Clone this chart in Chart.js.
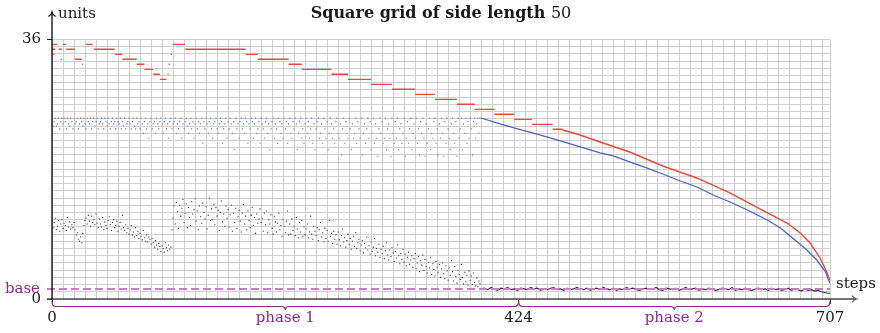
<!DOCTYPE html>
<html>
<head>
<meta charset="utf-8">
<script src="https://cdn.jsdelivr.net/npm/chart.js@4.4.1/dist/chart.umd.min.js"></script>
<style>
  html, body { margin: 0; padding: 0; background: #fff; }
  #wrap { width: 880px; height: 333px; }
</style>
</head>
<body>
<div id="wrap"><canvas id="c" width="880" height="333"></canvas></div>
<script>
// ---- axis labels and ticks ----
const xTickLabels = [0, 424, 707];
const yTickLabels = [0, 36];
const phaseNames = ['phase 1', 'phase 2'];
const phaseBounds = [0, 424, 707];
const baseValue = 1.39;

// ---- red: upper bound, piecewise-constant runs [fromStep, toStep, value] ----
const redRuns = [
  [0, 5, 35.33], [0, 3, 34.64], [6, 9, 34.64], [1, 2, 33.94], [8, 9, 33.25],
  [10, 13, 35.33], [13, 21, 34.64], [21, 27, 33.25], [27, 28, 32.56],
  [31, 37, 35.33], [38, 57, 34.64], [57, 64, 33.94], [64, 77, 33.25],
  [77, 84, 32.56], [84, 92, 31.86], [92, 98, 31.17], [98, 104, 30.47],
  [105, 106, 31.17], [106, 107, 32.56], [108, 109, 33.94],
  [110, 121, 35.33], [121, 176, 34.64], [176, 187, 33.94], [187, 215, 33.25],
  [215, 227, 32.56], [227, 254, 31.86], [254, 269, 31.17], [269, 290, 30.47],
  [290, 309, 29.78], [309, 330, 29.09], [330, 348, 28.39], [348, 368, 27.70],
  [368, 384, 27.01], [384, 402, 26.31], [402, 420, 25.62], [420, 436, 24.92],
  [436, 455, 24.23], [455, 464, 23.54]
];
const redTailSteps = [464, 480, 498, 525, 555, 586, 616, 642, 668, 680, 689, 698, 704, 707];
const redTailVals  = [23.45, 22.75, 21.78, 20.39, 18.45, 16.79, 14.71, 12.62, 10.54, 9.16, 7.77, 5.69, 3.75, 2.64];

// ---- blue: one value per step during phase 1 (steps 0..389) ----
const blueScatter = [
  25.1, 24.0, 24.6, 25.1, 24.0, 24.3, 25.1, 23.6, 24.6, 25.1,
  24.3, 25.1, 24.6, 23.6, 25.1, 24.3, 24.0, 25.1, 24.6, 23.6,
  25.1, 24.3, 24.6, 25.1, 23.6, 24.3, 25.1, 24.6, 24.0, 25.1,
  24.3, 23.6, 25.1, 24.6, 24.3, 25.1, 23.6, 24.6, 25.1, 24.0,
  24.6, 25.1, 23.6, 24.3, 24.6, 25.1, 24.3, 23.6, 25.1, 24.6,
  24.0, 25.1, 24.3, 23.6, 24.6, 25.1, 24.3, 24.6, 23.6, 25.1,
  24.6, 24.3, 25.1, 23.6, 24.6, 24.0, 25.1, 23.6, 24.3, 24.6,
  25.1, 24.3, 23.6, 24.6, 25.1, 24.0, 23.6, 25.1, 24.3, 24.6,
  23.6, 25.1, 24.3, 23.0, 24.6, 25.1, 23.6, 24.3, 22.3, 24.6,
  25.1, 23.6, 24.3, 24.6, 23.0, 25.1, 24.3, 23.6, 24.6, 25.1,
  24.3, 23.0, 24.6, 25.1, 23.6, 24.3, 22.3, 24.6, 25.1, 23.6,
  24.3, 24.6, 25.1, 23.0, 24.3, 23.6, 24.6, 25.1, 22.3, 24.3,
  23.6, 24.6, 25.1, 24.0, 23.0, 24.3, 25.1, 23.6, 24.6, 22.3,
  24.3, 25.1, 23.6, 24.6, 23.0, 24.3, 25.1, 21.6, 24.6, 23.6,
  25.1, 24.3, 23.0, 24.6, 25.1, 23.6, 22.3, 24.3, 24.6, 25.1,
  23.6, 23.0, 24.3, 25.1, 24.6, 21.6, 23.6, 24.3, 25.1, 22.3,
  24.6, 23.6, 25.1, 24.3, 23.0, 24.6, 20.7, 25.1, 23.6, 24.3,
  22.3, 24.6, 25.1, 23.6, 24.3, 23.0, 25.1, 24.6, 21.6, 24.3,
  23.6, 25.1, 24.6, 22.3, 24.3, 25.1, 23.0, 23.6, 24.6, 21.6,
  25.1, 24.3, 23.6, 22.3, 24.6, 25.1, 23.0, 24.3, 20.7, 23.6,
  24.6, 25.1, 22.3, 24.3, 23.6, 21.6, 25.1, 24.6, 23.0, 24.3,
  22.3, 25.1, 23.6, 24.6, 21.6, 24.3, 25.1, 23.0, 22.3, 24.6,
  23.6, 25.1, 24.3, 20.7, 23.0, 24.6, 25.1, 22.3, 23.6, 21.6,
  24.3, 25.1, 23.0, 24.6, 22.3, 23.6, 25.1, 21.6, 24.3, 20.7,
  23.6, 24.6, 25.1, 22.3, 23.0, 24.3, 21.6, 25.1, 23.6, 22.3,
  24.6, 20.7, 23.0, 25.1, 24.3, 22.3, 23.6, 21.6, 24.6, 25.1,
  23.0, 22.3, 24.3, 20.0, 23.6, 25.1, 21.6, 24.6, 23.0, 22.3,
  25.1, 23.6, 20.7, 24.3, 22.3, 23.0, 25.1, 21.6, 24.6, 23.6,
  22.3, 25.1, 20.0, 23.0, 24.3, 21.6, 23.6, 25.1, 22.3, 24.6,
  20.7, 23.0, 25.1, 21.6, 24.3, 22.3, 19.8, 23.6, 25.1, 23.0,
  24.6, 21.6, 22.3, 25.1, 20.7, 23.6, 24.3, 22.3, 19.8, 25.1,
  23.0, 21.6, 24.6, 22.3, 25.1, 20.7, 23.6, 24.3, 21.6, 23.0,
  25.1, 19.8, 22.3, 24.6, 21.6, 23.6, 25.1, 20.7, 23.0, 24.3,
  22.3, 25.1, 21.6, 23.6, 20.0, 24.6, 23.0, 25.1, 22.3, 19.8,
  24.3, 21.6, 23.6, 25.1, 20.7, 23.0, 22.3, 24.6, 25.1, 21.6,
  23.6, 20.0, 24.3, 22.3, 25.1, 23.0, 19.8, 24.6, 21.6, 25.1,
  23.6, 22.3, 20.7, 24.3, 25.1, 23.0, 21.6, 24.6, 19.8, 25.1,
  22.3, 23.6, 25.1, 20.7, 24.3, 23.0, 25.1, 21.6, 24.6, 22.3,
  25.1, 23.6, 20.0, 24.6, 25.1, 22.3, 24.3, 25.1, 23.0, 25.1
];
// blue during phase 2
const blueTailSteps = [390, 407, 424, 444, 462, 480, 498, 510, 525, 541, 555, 571, 586, 601, 616, 632, 650, 662, 673, 686, 695, 703, 705, 707];
const blueTailVals  = [25.11, 24.28, 23.58, 22.75, 21.92, 21.09, 20.26, 19.84, 19.01, 18.17, 17.34, 16.37, 15.54, 14.43, 13.46, 12.35, 10.96, 9.85, 8.46, 6.80, 5.41, 3.75, 2.91, 2.20];

// ---- black: one value per step during phase 1 (steps 0..389) ----
const blackScatter = [
  10.8, 9.9, 10.6, 11.2, 9.6, 10.1, 10.9, 9.4, 10.4, 11.0,
  9.8, 10.5, 10.2, 9.5, 11.3, 10.0, 10.7, 9.7, 10.3, 9.9,
  10.6, 9.6, 8.9, 9.2, 8.3, 8.0, 8.6, 7.8, 9.1, 10.2,
  10.9, 11.2, 10.4, 11.6, 10.8, 10.1, 11.5, 10.6, 11.0, 10.3,
  11.8, 10.5, 9.9, 11.1, 10.4, 10.0, 11.3, 9.6, 10.7, 10.2,
  9.8, 10.9, 11.4, 10.3, 9.5, 10.6, 11.0, 9.9, 10.2, 10.8,
  9.4, 10.1, 10.6, 9.7, 11.6, 9.9, 9.5, 10.3, 9.2, 9.8,
  9.0, 9.6, 10.2, 8.9, 9.3, 8.6, 9.9, 8.8, 9.4, 8.4,
  9.1, 8.7, 8.2, 9.5, 8.5, 8.0, 8.9, 7.9, 8.6, 8.3,
  7.6, 8.4, 7.8, 7.2, 8.1, 7.5, 6.9, 7.7, 7.3, 6.6,
  7.4, 7.0, 6.5, 7.8, 7.1, 6.7, 7.5, 6.9, 7.2, 9.6,
  11.2, 12.9, 10.4, 13.4, 12.1, 9.8, 13.0, 11.5, 12.6, 13.8,
  10.6, 11.9, 13.2, 9.9, 12.7, 11.3, 10.2, 13.5, 11.8, 12.4,
  13.9, 10.8, 12.2, 9.6, 12.9, 11.4, 10.5, 13.3, 12.0, 11.1,
  12.8, 9.7, 11.6, 14.0, 10.9, 12.5, 11.0, 13.1, 10.3, 12.7,
  11.5, 12.3, 9.5, 12.0, 13.6, 10.7, 11.8, 10.1, 12.9, 11.2,
  12.4, 10.0, 11.7, 13.0, 9.4, 11.9, 10.6, 12.6, 9.8, 11.4,
  12.3, 10.8, 9.3, 11.9, 13.1, 10.4, 11.5, 9.6, 12.2, 10.9,
  9.9, 11.6, 12.7, 10.2, 11.3, 9.1, 11.8, 10.5, 11.1, 12.5,
  10.6, 11.2, 9.4, 11.9, 10.3, 12.2, 9.2, 11.0, 10.4, 11.7,
  9.8, 9.0, 11.4, 10.7, 9.3, 10.5, 11.9, 9.6, 10.2, 8.7,
  11.0, 10.1, 9.2, 10.8, 12.2, 8.9, 10.4, 9.0, 11.1, 9.5,
  10.1, 8.8, 11.3, 9.7, 8.5, 10.6, 9.3, 10.9, 8.7, 10.0,
  8.9, 9.7, 10.4, 8.5, 9.3, 11.5, 9.0, 8.3, 10.1, 9.4,
  8.8, 9.9, 8.1, 9.6, 10.6, 8.6, 9.2, 7.9, 9.8, 8.4,
  9.5, 8.0, 10.9, 8.7, 9.1, 7.7, 9.4, 8.3, 8.9, 7.6,
  9.3, 8.2, 7.4, 8.8, 9.7, 7.9, 8.5, 7.2, 8.1, 9.0,
  7.6, 8.4, 6.9, 8.0, 8.7, 7.3, 9.2, 7.0, 7.8, 8.3,
  6.7, 7.5, 8.1, 6.4, 7.7, 7.1, 8.6, 6.8, 7.4, 6.2,
  7.9, 6.6, 7.2, 8.4, 6.0, 7.0, 6.5, 7.6, 5.8, 6.9,
  6.3, 7.3, 5.6, 6.7, 7.8, 6.1, 5.4, 6.8, 5.9, 7.1,
  6.4, 5.2, 6.6, 5.7, 7.5, 6.0, 4.9, 6.3, 5.5, 6.9,
  5.1, 6.2, 4.6, 5.8, 6.5, 4.8, 5.4, 6.0, 4.4, 5.6,
  6.3, 4.2, 5.0, 5.9, 3.8, 5.3, 4.7, 6.1, 4.0, 5.5,
  4.5, 3.6, 5.1, 4.3, 5.8, 3.4, 4.9, 4.1, 3.2, 5.2,
  4.4, 3.7, 4.8, 3.0, 4.2, 5.0, 3.5, 2.8, 4.6, 3.9,
  2.6, 4.3, 3.3, 5.3, 3.8, 2.5, 4.5, 3.1, 2.2, 4.0,
  3.4, 2.7, 4.8, 3.0, 2.1, 3.7, 2.4, 3.3, 1.9, 3.9,
  2.6, 3.2, 2.0, 3.6, 2.3, 1.8, 2.9, 1.7, 2.5, 2.1
];
// black during phase 2, sampled every 3 steps from step 390
const blackTailStart = 390;
const blackTailEvery = 3;
const blackTail = [
  1.4, 1.5, 1.3, 1.6, 1.4, 1.2, 1.5, 1.4, 1.6, 1.3,
  1.4, 1.2, 1.5, 1.4, 1.3, 1.6, 1.4, 1.5, 1.2, 1.4,
  1.3, 1.5, 1.6, 1.3, 1.4, 1.2, 1.5, 1.3, 1.4, 1.6,
  1.4, 1.3, 1.5, 1.2, 1.4, 1.5, 1.3, 1.6, 1.4, 1.3,
  1.5, 1.2, 1.4, 1.3, 1.6, 1.4, 1.5, 1.3, 1.2, 1.4,
  1.5, 1.3, 1.4, 1.6, 1.3, 1.2, 1.5, 1.4, 1.3, 1.5,
  1.2, 1.4, 1.6, 1.3, 1.4, 1.5, 1.2, 1.4, 1.3, 1.5,
  1.4, 1.2, 1.3, 1.5, 1.4, 1.3, 1.6, 1.2, 1.4, 1.3,
  1.5, 1.3, 1.2, 1.4, 1.5, 1.3, 1.4, 1.2, 1.5, 1.3,
  1.4, 1.2, 1.3, 1.5, 1.2, 1.4, 1.3, 1.1, 1.4, 1.2,
  1.3, 1.1, 1.2, 1.0, 0.9, 0.8
];

// ---- styling ----
const SERIF = '"DejaVu Serif", "Liberation Serif", serif';
const FONT_SIZE = 15;
const TITLE_SIZE = 16;
const GRID = '#cfcfcf';
const RED = '#e64a3b';
const BLUE = '#4b64c2';
const INK = '#1a1a1a';
const PURPLE = '#8e2a8e';
const PURPLE_LIGHT = '#c67fc6';
const X_MAX = 707, Y_MAX = 36;

// grid positions: every 10 steps and every unit, plus the labelled ticks
const xGrid = [];
for (let v = 0; v <= 700; v += 10) xGrid.push(v);
xGrid.push(424, 707);
xGrid.sort((a, b) => a - b);
const yGrid = [];
for (let v = 0; v <= Y_MAX; v++) yGrid.push(v);

// ---- build datasets ----
const redData = [];
redRuns.forEach(([s, e, v]) => {
  redData.push({ x: s, y: v }, { x: e, y: v }, { x: e, y: null });
});
redTailSteps.forEach((s, i) => redData.push({ x: s, y: redTailVals[i] }));

const blueDots = blueScatter.map((v, i) => ({ x: i, y: v }));
const blueLine = blueTailSteps.map((s, i) => ({ x: s, y: blueTailVals[i] }));
const blackDots = blackScatter.map((v, i) => ({ x: i, y: v }));
const blackLine = blackTail.map((v, i) => ({ x: blackTailStart + i * blackTailEvery, y: v }));
blackLine.push({ x: X_MAX, y: blackTail[blackTail.length - 1] });

// ---- decorations: axes with arrows, base line, braces, title ----
const decor = {
  id: 'decor',
  afterDatasetsDraw(chart) {
    const { ctx, scales: { x, y } } = chart;
    const yb = y.getPixelForValue(baseValue);
    ctx.save();
    ctx.strokeStyle = PURPLE_LIGHT;
    ctx.lineWidth = 1.8;
    ctx.setLineDash([8, 4]);
    ctx.beginPath();
    ctx.moveTo(x.getPixelForValue(0) - 5, yb);
    ctx.lineTo(x.getPixelForValue(X_MAX), yb);
    ctx.stroke();
    ctx.restore();
  },
  afterDraw(chart) {
    const { ctx, scales: { x, y } } = chart;
    const x0 = x.getPixelForValue(0), x1 = x.getPixelForValue(X_MAX);
    const y0 = y.getPixelForValue(0), yTop = y.getPixelForValue(Y_MAX);
    ctx.save();

    // x axis with arrow
    ctx.strokeStyle = '#4a4a4a';
    ctx.lineWidth = 1.6;
    ctx.beginPath();
    ctx.moveTo(x0 - 5, y0);
    ctx.lineTo(x1 + 26, y0);
    ctx.stroke();
    ctx.lineWidth = 1.1;
    ctx.beginPath();
    ctx.moveTo(x1 + 22, y0 - 3.5);
    ctx.quadraticCurveTo(x1 + 24, y0 - 0.5, x1 + 26.5, y0);
    ctx.quadraticCurveTo(x1 + 24, y0 + 0.5, x1 + 22, y0 + 3.5);
    ctx.stroke();

    // y axis with arrow
    ctx.strokeStyle = '#000';
    ctx.lineWidth = 1.3;
    ctx.beginPath();
    ctx.moveTo(x0, y0 + 1);
    ctx.lineTo(x0, yTop - 27);
    ctx.stroke();
    ctx.lineWidth = 1.1;
    ctx.beginPath();
    ctx.moveTo(x0 - 3.5, yTop - 23);
    ctx.quadraticCurveTo(x0 - 0.5, yTop - 25, x0, yTop - 27.5);
    ctx.quadraticCurveTo(x0 + 0.5, yTop - 25, x0 + 3.5, yTop - 23);
    ctx.stroke();

    // axis names
    ctx.fillStyle = INK;
    ctx.font = FONT_SIZE + 'px ' + SERIF;
    ctx.textBaseline = 'middle';
    ctx.textAlign = 'left';
    ctx.fillText('units', x0 + 6, yTop - 25);
    ctx.fillText('steps', x1 + 6, y0 - 15);

    // base label
    ctx.fillStyle = PURPLE;
    ctx.textAlign = 'right';
    ctx.fillText('base', x0 - 12, y.getPixelForValue(baseValue));

    // braces under the x axis
    const braceTop = y0 + 2, braceMid = y0 + 7.5, braceTip = y0 + 11;
    ctx.strokeStyle = PURPLE;
    ctx.lineWidth = 1.2;
    for (let i = 0; i < phaseNames.length; i++) {
      const a = x.getPixelForValue(phaseBounds[i]);
      const b = x.getPixelForValue(phaseBounds[i + 1]);
      const m = (a + b) / 2;
      ctx.beginPath();
      ctx.moveTo(a, braceTop);
      ctx.quadraticCurveTo(a, braceMid, a + 4, braceMid);
      ctx.lineTo(m - 4, braceMid);
      ctx.quadraticCurveTo(m, braceMid, m, braceTip);
      ctx.quadraticCurveTo(m, braceMid, m + 4, braceMid);
      ctx.lineTo(b - 4, braceMid);
      ctx.quadraticCurveTo(b, braceMid, b, braceTop);
      ctx.stroke();
      ctx.fillStyle = PURPLE;
      ctx.textAlign = 'center';
      ctx.fillText(phaseNames[i], m, y0 + 19);
    }

    // title: bold words followed by a regular numeral
    const t1 = 'Square grid of side length ', t2 = '50';
    ctx.fillStyle = INK;
    ctx.textBaseline = 'alphabetic';
    ctx.font = 'bold ' + TITLE_SIZE + 'px ' + SERIF;
    const w1 = ctx.measureText(t1).width;
    ctx.font = TITLE_SIZE + 'px ' + SERIF;
    const w2 = ctx.measureText(t2).width;
    const cx = (x0 + x1) / 2;
    const sx = cx - (w1 + w2) / 2;
    ctx.textAlign = 'left';
    ctx.font = 'bold ' + TITLE_SIZE + 'px ' + SERIF;
    ctx.fillText(t1, sx, 18);
    ctx.font = TITLE_SIZE + 'px ' + SERIF;
    ctx.fillText(t2, sx + w1, 18);
    ctx.restore();
  }
};

new Chart(document.getElementById('c'), {
  type: 'scatter',
  data: {
    datasets: [
      { label: 'upper', data: redData, showLine: true, spanGaps: false,
        borderColor: RED, borderWidth: 1.4, pointRadius: 0, order: 3 },
      { label: 'middle', data: blueDots, pointStyle: 'rect', pointRadius: 0.8,
        backgroundColor: '#5a71c8', borderWidth: 0, order: 2 },
      { label: 'middle tail', data: blueLine, showLine: true,
        borderColor: BLUE, borderWidth: 1.3, pointRadius: 0, order: 2 },
      { label: 'lower', data: blackDots, pointStyle: 'rect', pointRadius: 0.75,
        backgroundColor: '#2a2a2a', borderWidth: 0, order: 1 },
      { label: 'lower tail', data: blackLine, showLine: true,
        borderColor: '#333', borderWidth: 1.1, pointRadius: 0, order: 1 }
    ]
  },
  options: {
    responsive: false,
    animation: false,
    devicePixelRatio: 1,
    layout: { padding: { top: 39.5, right: 50, left: 0, bottom: 0 } },
    plugins: { legend: { display: false }, tooltip: { enabled: false }, title: { display: false } },
    scales: {
      x: {
        type: 'linear', min: 0, max: X_MAX,
        afterBuildTicks: s => { s.ticks = xGrid.map(v => ({ value: v })); },
        afterFit: s => { s.height = 34; },
        border: { display: false },
        grid: {
          color: c => (c.tick && c.tick.value === 424) ? 'rgba(0,0,0,0)' : GRID,
          lineWidth: 1,
          drawTicks: true,
          tickLength: 5,
          tickColor: c => (c.tick && xTickLabels.includes(c.tick.value)) ? '#222' : 'rgba(0,0,0,0)'
        },
        ticks: {
          autoSkip: false, maxRotation: 0, minRotation: 0, padding: 5,
          color: INK, font: { family: SERIF, size: FONT_SIZE },
          callback: v => xTickLabels.includes(v) ? String(v) : ''
        }
      },
      y: {
        type: 'linear', min: 0, max: Y_MAX,
        afterBuildTicks: s => { s.ticks = yGrid.map(v => ({ value: v })); },
        afterFit: s => { s.width = 52; },
        border: { display: false },
        grid: {
          color: GRID,
          lineWidth: 1,
          drawTicks: true,
          tickLength: 5,
          tickColor: c => (c.tick && yTickLabels.includes(c.tick.value)) ? '#222' : 'rgba(0,0,0,0)'
        },
        ticks: {
          autoSkip: false, padding: 6,
          color: INK, font: { family: SERIF, size: FONT_SIZE },
          callback: v => yTickLabels.includes(v) ? String(v) : ''
        }
      }
    }
  },
  plugins: [decor]
});
</script>
</body>
</html>
